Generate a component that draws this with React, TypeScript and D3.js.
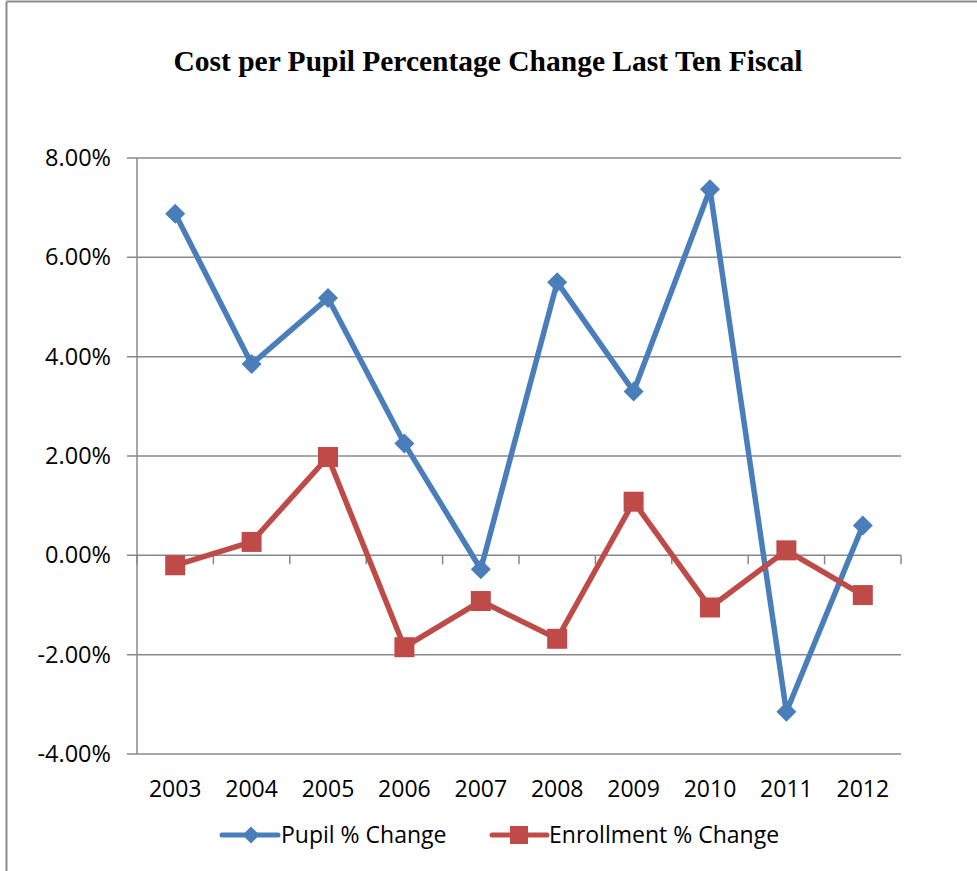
import React from "react";
import * as d3 from "d3";

const years = ["2003", "2004", "2005", "2006", "2007", "2008", "2009", "2010", "2011", "2012"];
const pupilChange = [6.88, 3.85, 5.18, 2.25, -0.28, 5.5, 3.3, 7.37, -3.15, 0.6];
const enrollmentChange = [-0.2, 0.27, 1.98, -1.85, -0.92, -1.68, 1.08, -1.05, 0.1, -0.8];
const yTicks = [-4, -2, 0, 2, 4, 6, 8];
const title = "Cost per Pupil Percentage Change Last Ten Fiscal";
const seriesNames = ["Pupil % Change", "Enrollment % Change"];

const W = 977;
const H = 871;
const left = 137;
const right = 901;
const top = 158;
const bottom = 754;
const BLUE = "#4A7EBB";
const RED = "#BE4B48";
const GRID = "#888888";
const LABEL_FONT = "'Open Sans', 'Noto Sans', sans-serif";
const fmt = (t: number) => d3.format(".2f")(t).replace("\u2212", "-") + "%";

export default function App() {
  const x = d3.scaleBand<string>().domain(years).range([left, right]).padding(0);
  const y = d3.scaleLinear().domain([-4, 8]).range([bottom, top]);
  const cx = (i: number) => (x(years[i]) as number) + x.bandwidth() / 2;
  const line = d3
    .line<number>()
    .x((_, i) => cx(i))
    .y((d) => y(d));
  const diamond = (px: number, py: number, r: number) =>
    `M${px},${py - r}L${px + r},${py}L${px},${py + r}L${px - r},${py}Z`;
  const boundaries = years.map((yr) => x(yr) as number).concat([right]);
  const y0 = y(0);

  return (
    <svg
      width={W}
      height={H}
      style={{ position: "absolute", left: 0, top: 0, background: "#fff" }}
    >
      <rect x={0} y={0} width={W} height={H} fill="#fff" />
      {/* frame */}
      <line x1={6.5} y1={1.5} x2={W} y2={1.5} stroke="#8c8c8c" strokeWidth={2} />
      <line x1={6.5} y1={1.5} x2={6.5} y2={H} stroke="#8c8c8c" strokeWidth={2} />

      <text
        x={488}
        y={71}
        textAnchor="middle"
        fontFamily="'Liberation Serif', 'Times New Roman', serif"
        fontWeight="bold"
        fontSize={29.5}
        fill="#000"
      >
        {title}
      </text>

      {/* gridlines */}
      {yTicks.map((t) => (
        <g key={t}>
          <line x1={left - 10} x2={right} y1={y(t)} y2={y(t)} stroke={GRID} strokeWidth={1.5} />
          <text
            x={111}
            y={y(t) + 8}
            textAnchor="end"
            fontFamily={LABEL_FONT}
            fontSize={23.5}
            fill="#000"
          >
            {fmt(t)}
          </text>
        </g>
      ))}
      {/* y axis */}
      <line x1={left} x2={left} y1={top} y2={bottom} stroke={GRID} strokeWidth={1.5} />
      {/* x axis ticks at 0 */}
      {boundaries.map((b, i) => (
        <line key={i} x1={b} x2={b} y1={y0} y2={y0 + 9} stroke={GRID} strokeWidth={1.5} />
      ))}
      {years.map((yr, i) => (
        <text
          key={yr}
          x={cx(i)}
          y={797}
          textAnchor="middle"
          fontFamily={LABEL_FONT}
          fontSize={23}
          fill="#000"
        >
          {yr}
        </text>
      ))}

      {/* pupil series */}
      <path d={line(pupilChange) || ""} fill="none" stroke={BLUE} strokeWidth={5.5} strokeLinejoin="round" />
      {pupilChange.map((v, i) => (
        <path key={i} d={diamond(cx(i), y(v), 10)} fill={BLUE} />
      ))}
      {/* enrollment series */}
      <path d={line(enrollmentChange) || ""} fill="none" stroke={RED} strokeWidth={5.5} strokeLinejoin="round" />
      {enrollmentChange.map((v, i) => (
        <rect key={i} x={cx(i) - 10} y={y(v) - 10} width={20} height={20} fill={RED} />
      ))}

      {/* legend */}
      <line x1={222} x2={278} y1={835} y2={835} stroke={BLUE} strokeWidth={5} strokeLinecap="round" />
      <path d={diamond(251, 835, 8.5)} fill={BLUE} />
      <text x={281} y={843} fontFamily={LABEL_FONT} fontSize={23} fill="#000">
        {seriesNames[0]}
      </text>
      <line x1={492} x2={547} y1={835} y2={835} stroke={RED} strokeWidth={5} strokeLinecap="round" />
      <rect x={510} y={826} width={18} height={18} fill={RED} />
      <text x={549} y={843} fontFamily={LABEL_FONT} fontSize={23} fill="#000">
        {seriesNames[1]}
      </text>
    </svg>
  );
}
